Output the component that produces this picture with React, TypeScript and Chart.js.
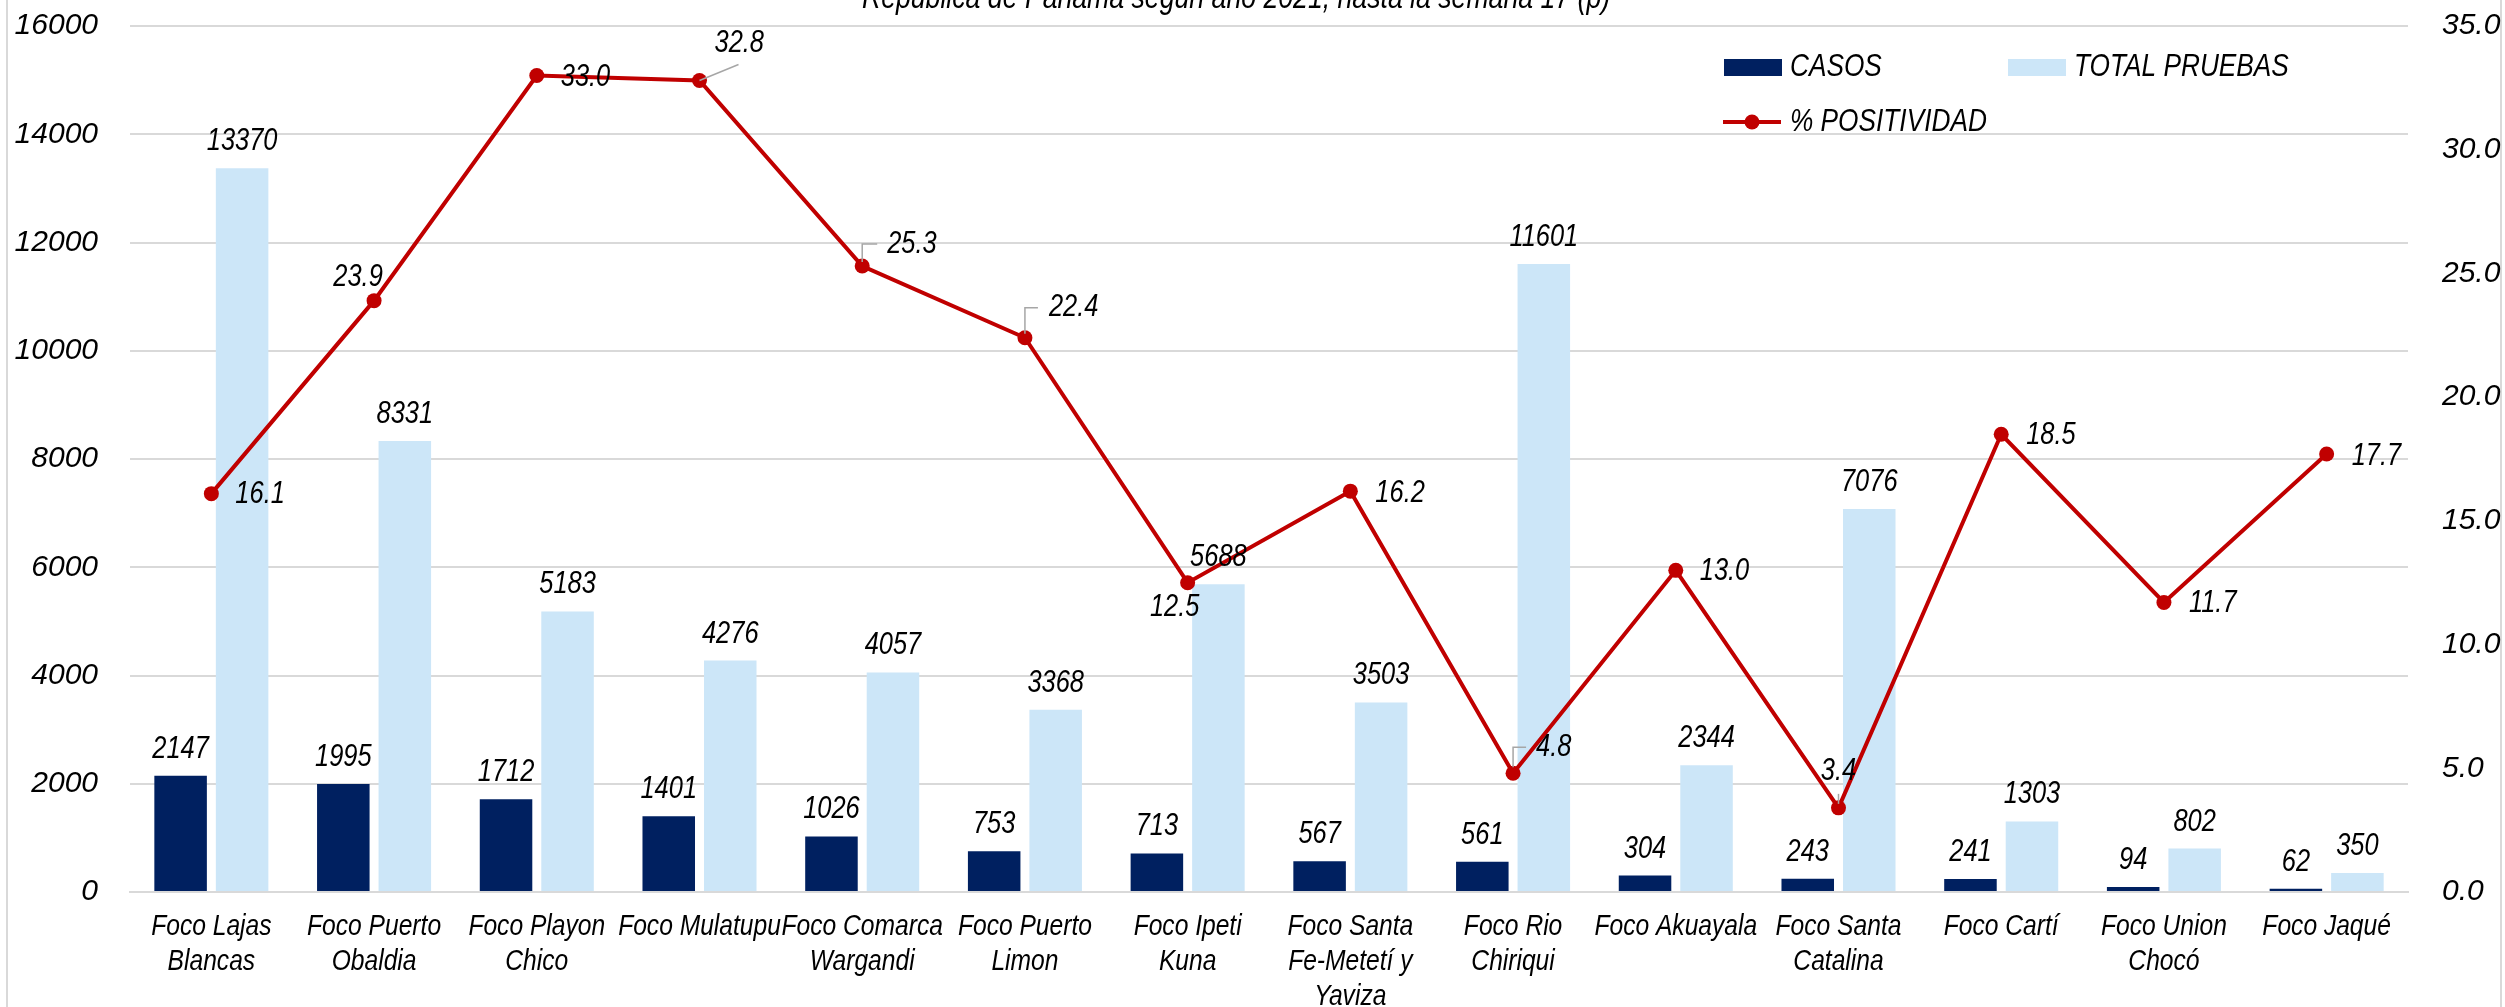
import React, { useEffect, useRef } from "react";
import { Chart, registerables } from "chart.js";

Chart.register(...registerables);

const titleText = "República de Panamá según año 2021, hasta la semana 17 (p)";

const categories: string[][] = [
  ["Foco Lajas", "Blancas"],
  ["Foco Puerto", "Obaldia"],
  ["Foco Playon", "Chico"],
  ["Foco Mulatupu"],
  ["Foco Comarca", "Wargandi"],
  ["Foco Puerto", "Limon"],
  ["Foco Ipeti", "Kuna"],
  ["Foco Santa", "Fe-Metetí y", "Yaviza"],
  ["Foco Rio", "Chiriqui"],
  ["Foco Akuayala"],
  ["Foco Santa", "Catalina"],
  ["Foco Cartí"],
  ["Foco Union", "Chocó"],
  ["Foco Jaqué"],
];

const casos = [2147, 1995, 1712, 1401, 1026, 753, 713, 567, 561, 304, 243, 241, 94, 62];
const totalPruebas = [13370, 8331, 5183, 4276, 4057, 3368, 5688, 3503, 11601, 2344, 7076, 1303, 802, 350];
const positividad = [16.1, 23.9, 33.0, 32.8, 25.3, 22.4, 12.5, 16.2, 4.8, 13.0, 3.4, 18.5, 11.7, 17.7];

const seriesNames = ["CASOS", "TOTAL PRUEBAS", "% POSITIVIDAD"];

const leftAxis = { min: 0, max: 16000, step: 2000 };
const rightAxis = { min: 0, max: 35, step: 5 };

// label placement for % positividad labels (relative to point)
type Place = { dx: number; dy: number; align: CanvasTextAlign; leader?: number[][] };
const pctPlacement: Place[] = [
  { dx: 24, dy: 1, align: "left" },
  { dx: -16, dy: -23, align: "center" },
  { dx: 24, dy: 2, align: "left" },
  { dx: 15, dy: -37, align: "left", leader: [[0, 0], [39, -16]] },
  { dx: 25, dy: -22, align: "left", leader: [[0, -4], [0, -22], [15, -22]] },
  { dx: 24, dy: -30, align: "left", leader: [[0, -4], [0, -30], [13, -30]] },
  { dx: -13, dy: 25, align: "center" },
  { dx: 25, dy: 2, align: "left" },
  { dx: 23, dy: -26, align: "left", leader: [[0, -6], [0, -26], [13, -26]] },
  { dx: 24, dy: 1, align: "left" },
  { dx: 0, dy: -36, align: "center", leader: [[0, -4], [0, -14]] },
  { dx: 25, dy: 1, align: "left" },
  { dx: 25, dy: 1, align: "left" },
  { dx: 25, dy: 2, align: "left" },
];

const FAMILY = "'Liberation Sans', Arial, sans-serif";
const NARROW_SCALE = 0.82;

const DARK = "#002060";
const LIGHT = "#CCE6F8";
const RED = "#C00000";
const GRID = "#D9D9D9";
const CLEAR = "rgba(0,0,0,0)";

function narrowText(
  ctx: CanvasRenderingContext2D,
  text: string,
  x: number,
  y: number,
  align: CanvasTextAlign,
  baseline: CanvasTextBaseline
) {
  ctx.save();
  ctx.translate(x, y);
  ctx.scale(NARROW_SCALE, 1);
  ctx.textAlign = align;
  ctx.textBaseline = baseline;
  ctx.fillText(text, 0, 0);
  ctx.restore();
}

const decorPlugin = {
  id: "decor",
  beforeDraw(chart: any) {
    const ctx = chart.ctx;
    ctx.save();
    ctx.fillStyle = "#ffffff";
    ctx.fillRect(0, 0, chart.width, chart.height);
    ctx.strokeStyle = GRID;
    ctx.lineWidth = 2;
    ctx.beginPath();
    ctx.moveTo(7, 0);
    ctx.lineTo(7, chart.height);
    ctx.moveTo(2501, 0);
    ctx.lineTo(2501, chart.height);
    ctx.stroke();
    ctx.restore();
  },
  afterDatasetsDraw(chart: any) {
    const ctx = chart.ctx;
    ctx.save();
    ctx.font = `italic 31px ${FAMILY}`;
    ctx.fillStyle = "#000";
    [0, 1].forEach((di) => {
      const meta = chart.getDatasetMeta(di);
      meta.data.forEach((bar: any, i: number) => {
        narrowText(ctx, String(chart.data.datasets[di].data[i]), bar.x, bar.y - 18, "center", "alphabetic");
      });
    });
    const lmeta = chart.getDatasetMeta(2);
    lmeta.data.forEach((pt: any, i: number) => {
      const p = pctPlacement[i];
      if (p.leader) {
        ctx.strokeStyle = "#A6A6A6";
        ctx.lineWidth = 1.5;
        ctx.beginPath();
        p.leader.forEach(([lx, ly], k) => {
          if (k === 0) ctx.moveTo(pt.x + lx, pt.y + ly);
          else ctx.lineTo(pt.x + lx, pt.y + ly);
        });
        ctx.stroke();
      }
      narrowText(ctx, positividad[i].toFixed(1), pt.x + p.dx, pt.y + p.dy, p.align, "middle");
    });
    ctx.restore();
  },
  afterDraw(chart: any) {
    const ctx = chart.ctx;
    const ds = chart.data.datasets;
    ctx.save();
    ctx.fillStyle = "#000";
    // x category labels
    ctx.font = `italic 30px ${FAMILY}`;
    const xs = chart.scales.x;
    (chart.data.labels as string[][]).forEach((lines, i) => {
      const x = xs.getPixelForValue(i);
      lines.forEach((ln, k) => {
        narrowText(ctx, ln, x, xs.top + 35 + k * 35, "center", "middle");
      });
    });
    // title
    ctx.font = `italic 32.5px ${FAMILY}`;
    narrowText(ctx, titleText, 1236, 8, "center", "alphabetic");
    // legend
    ctx.font = `italic 32px ${FAMILY}`;
    ctx.fillStyle = ds[0].backgroundColor;
    ctx.fillRect(1724, 59, 58, 17);
    ctx.fillStyle = "#000";
    narrowText(ctx, ds[0].label, 1790, 67, "left", "middle");
    ctx.fillStyle = ds[1].backgroundColor;
    ctx.fillRect(2008, 59, 58, 17);
    ctx.fillStyle = "#000";
    narrowText(ctx, ds[1].label, 2074, 67, "left", "middle");
    ctx.strokeStyle = ds[2].borderColor;
    ctx.lineWidth = 4;
    ctx.beginPath();
    ctx.moveTo(1723, 122);
    ctx.lineTo(1781, 122);
    ctx.stroke();
    ctx.fillStyle = ds[2].pointBackgroundColor;
    ctx.beginPath();
    ctx.arc(1752, 122, 7.5, 0, Math.PI * 2);
    ctx.fill();
    ctx.fillStyle = "#000";
    narrowText(ctx, ds[2].label, 1790, 122, "left", "middle");
    ctx.restore();
  },
};

export default function App() {
  const ref = useRef<HTMLCanvasElement | null>(null);
  useEffect(() => {
    if (!ref.current) return;
    const chart = new Chart(ref.current, {
      type: "bar",
      data: {
        labels: categories,
        datasets: [
          {
            type: "bar",
            label: seriesNames[0],
            data: casos,
            backgroundColor: DARK,
            yAxisID: "y",
            order: 2,
            categoryPercentage: 0.756,
            barPercentage: 0.854,
          },
          {
            type: "bar",
            label: seriesNames[1],
            data: totalPruebas,
            backgroundColor: LIGHT,
            yAxisID: "y",
            order: 2,
            categoryPercentage: 0.756,
            barPercentage: 0.854,
          },
          {
            type: "line",
            label: seriesNames[2],
            data: positividad,
            borderColor: RED,
            backgroundColor: RED,
            pointBackgroundColor: RED,
            pointBorderWidth: 0,
            pointRadius: 7.5,
            borderWidth: 4,
            tension: 0,
            yAxisID: "y1",
            order: 0,
          } as any,
        ],
      },
      options: {
        animation: false,
        responsive: false,
        devicePixelRatio: 1,
        layout: { padding: { top: 26, left: 0, right: 0, bottom: 0 } },
        plugins: {
          legend: { display: false },
          tooltip: { enabled: false },
          title: { display: false },
        },
        scales: {
          x: {
            grid: { display: false, drawTicks: false },
            border: { display: true, color: GRID, width: 2 },
            ticks: {
              color: CLEAR,
              padding: 0,
              maxRotation: 0,
              autoSkip: false,
              font: { family: FAMILY, size: 12, style: "italic" },
            },
            afterFit: (s: any) => {
              s.height = 115;
            },
          },
          y: {
            position: "left",
            min: leftAxis.min,
            max: leftAxis.max,
            grid: { color: GRID, lineWidth: 2, drawTicks: true, tickLength: 32, tickColor: CLEAR },
            border: { display: false },
            ticks: {
              stepSize: leftAxis.step,
              color: "#000",
              padding: 0,
              font: { family: FAMILY, size: 30, style: "italic" },
              callback: (v: any) => String(v),
            },
            afterFit: (s: any) => {
              s.width = 130;
            },
          },
          y1: {
            position: "right",
            min: rightAxis.min,
            max: rightAxis.max,
            grid: { display: true, drawOnChartArea: false, drawTicks: true, tickLength: 34, tickColor: CLEAR, color: CLEAR },
            border: { display: false },
            ticks: {
              stepSize: rightAxis.step,
              color: "#000",
              padding: 0,
              font: { family: FAMILY, size: 30, style: "italic" },
              callback: (v: any) => Number(v).toFixed(1),
            },
            afterFit: (s: any) => {
              s.width = 97;
            },
          },
        },
      },
      plugins: [decorPlugin],
    });
    return () => chart.destroy();
  }, []);
  return (
    <div style={{ position: "fixed", left: 0, top: 0, width: 2505, height: 1007 }}>
      <canvas ref={ref} width={2505} height={1007} style={{ width: 2505, height: 1007, display: "block" }} />
    </div>
  );
}
